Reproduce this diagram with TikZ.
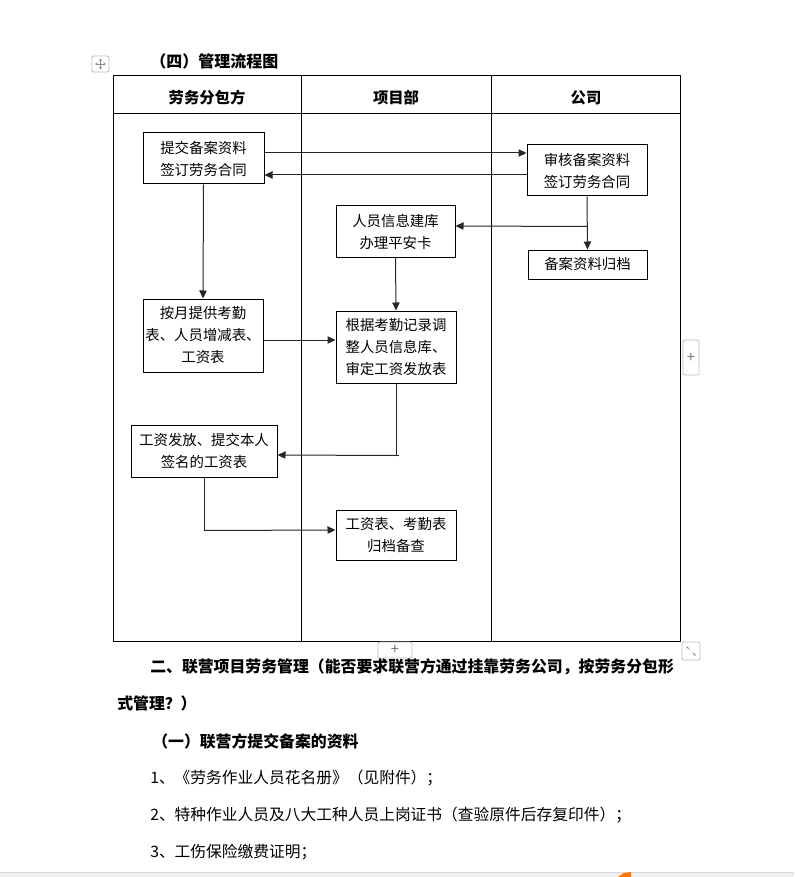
\documentclass[tikz,border=0pt]{standalone}
\usepackage{fontspec}
\setmainfont{Noto Sans CJK SC}
\usetikzlibrary{arrows.meta,calc}
\tikzset{
  box/.style={draw=black, line width=0.75pt, fill=white, align=center, inner sep=0pt,
    font=\fontsize{10.8}{16.5}\selectfont},
  arr/.style={draw=black!85, line width=0.75pt, -{Triangle[length=6pt,width=5.5pt]}},
  lane/.style={draw=black, line width=0.75pt},
  hdr/.style={font=\fontsize{11.5}{14}\selectfont\bfseries},
  body/.style={anchor=west, inner sep=0pt, font=\fontsize{11.8}{14}\selectfont},
  bodyb/.style={body, font=\fontsize{11.9}{14}\selectfont\bfseries},
  ui/.style={draw=black!25, line width=0.6pt, fill=white, rounded corners=1.5pt},
}
\begin{document}
\begin{tikzpicture}[x=0.75pt,y=-0.75pt]
\useasboundingbox[fill=white] (0,0) rectangle (794,877);

% title
\node[bodyb, font=\fontsize{12}{14}\selectfont\bfseries] (title) at (150,61) {（四）管理流程图};

% move handle
\node[ui, minimum width=12.75pt, minimum height=12pt, inner sep=0pt] (move) at (100.5,64) {};
\draw[black!45, line width=0.5pt, -{Stealth[length=2pt,width=2.5pt]}] (move.center) -- ++(0,-5.5);
\draw[black!45, line width=0.5pt, -{Stealth[length=2pt,width=2.5pt]}] (move.center) -- ++(0,5.5);
\draw[black!45, line width=0.5pt, -{Stealth[length=2pt,width=2.5pt]}] (move.center) -- ++(-5.5,0);
\draw[black!45, line width=0.5pt, -{Stealth[length=2pt,width=2.5pt]}] (move.center) -- ++(5.5,0);

% table frame
\draw[lane] (113,76) rectangle (680,641);
\draw[lane] (113,114) -- (680,114);
\draw[lane] (301,76) -- (301,641);
\draw[lane] (491,76) -- (491,641);
\node[hdr] (h1) at (207,98) {劳务分包方};
\node[hdr] (h2) at (396,98) {项目部};
\node[hdr] (h3) at (586,98) {公司};

% boxes
\node[box, minimum width=90.75pt, minimum height=38.25pt] (b1) at (203.5,158.5) {提交备案资料\\签订劳务合同};
\node[box, minimum width=90pt, minimum height=38.25pt] (b2) at (587,170.5) {审核备案资料\\签订劳务合同};
\node[box, minimum width=89.25pt, minimum height=38.25pt] (b3) at (395.5,231.5) {人员信息建库\\办理平安卡};
\node[box, minimum width=89.25pt, minimum height=21.75pt] (b4) at (587.5,264.5) {备案资料归档};
\node[box, minimum width=90pt, minimum height=54.75pt] (b5) at (203,335.5) {按月提供考勤\\表、人员增减表、\\工资表};
\node[box, minimum width=90pt, minimum height=54pt] (b6) at (396,347) {根据考勤记录调\\整人员信息库、\\审定工资发放表};
\node[box, minimum width=109.5pt, minimum height=39pt] (b7) at (204,451) {工资发放、提交本人\\签名的工资表};
\node[box, minimum width=90pt, minimum height=37.5pt] (b8) at (396,535) {工资表、考勤表\\归档备查};

% connectors
\draw[arr] ($(b1.east)+(0,-5.5)$) -- ($(b2.west)+(0,-17.5)$);
\draw[arr] ($(b2.west)+(0,4.5)$) -- ($(b1.east)+(0,16.5)$);
\draw[arr] (b2.south) -- (b4.north);
\draw[arr] ($(b2.south)+(0,30)$) -- ($(b3.east)+(0,-5.5)$);
\draw[arr] (b1.south) -- (b5.north);
\draw[arr] (b3.south) -- (b6.north);
\draw[arr] ($(b5.east)+(0,4.5)$) -- ($(b6.west)+(0,-7)$);
\coordinate (c67) at ($(b6.south)+(0,72)$);
\draw[draw=black!85, line width=0.75pt] (b6.south) -- (c67) -- ++(3,0);
\draw[arr] (c67) -- ($(b7.east)+(0,4)$);
\coordinate (c78) at ($(b7.south)+(0,53)$);
\draw[draw=black!85, line width=0.75pt] (b7.south) -- (c78);
\draw[arr] (c78) -- ($(b8.west)+(0,-5)$);

% UI buttons
\node[ui, minimum width=12pt, minimum height=26.25pt, inner sep=0pt, font=\fontsize{11}{11}\selectfont, text=black!55] (plusr) at (691,357.5) {+};
\node[ui, minimum width=25.5pt, minimum height=12pt, inner sep=0pt, font=\fontsize{11}{11}\selectfont, text=black!55] (plusb) at (395,650) {+};
\node[ui, minimum width=13.5pt, minimum height=13.5pt, inner sep=0pt] (resize) at (691,651) {};
\draw[black!50, line width=0.45pt, -{Stealth[length=1.5pt,width=2pt]}] ($(resize.center)+(-1.5,-1.5)$) -- ++(-3,-3);
\draw[black!50, line width=0.45pt, -{Stealth[length=1.5pt,width=2pt]}] ($(resize.center)+(1.5,1.5)$) -- ++(3,3);

% text below
\node[bodyb] (t1) at (150,667) {二、联营项目劳务管理（能否要求联营方通过挂靠劳务公司，按劳务分包形};
\node[bodyb] (t2) at (117,703) {式管理？）};
\node[bodyb] (t3) at (152,741) {（一）联营方提交备案的资料};
\node[body] (t4) at (150,778) {1、《劳务作业人员花名册》（见附件）；};
\node[body] (t5) at (150,815) {2、特种作业人员及八大工种人员上岗证书（查验原件后存复印件）；};
\node[body] (t6) at (150,852) {3、工伤保险缴费证明；};

% bottom bar
\fill[black!6] (0,872) rectangle (794,877);
\draw[black!15, line width=0.75pt] (0,872) -- (794,872);
\fill[orange!90!red] (618,877) -- (624,873) -- (631,872) -- (631,877) -- cycle;
\end{tikzpicture}
\end{document}
